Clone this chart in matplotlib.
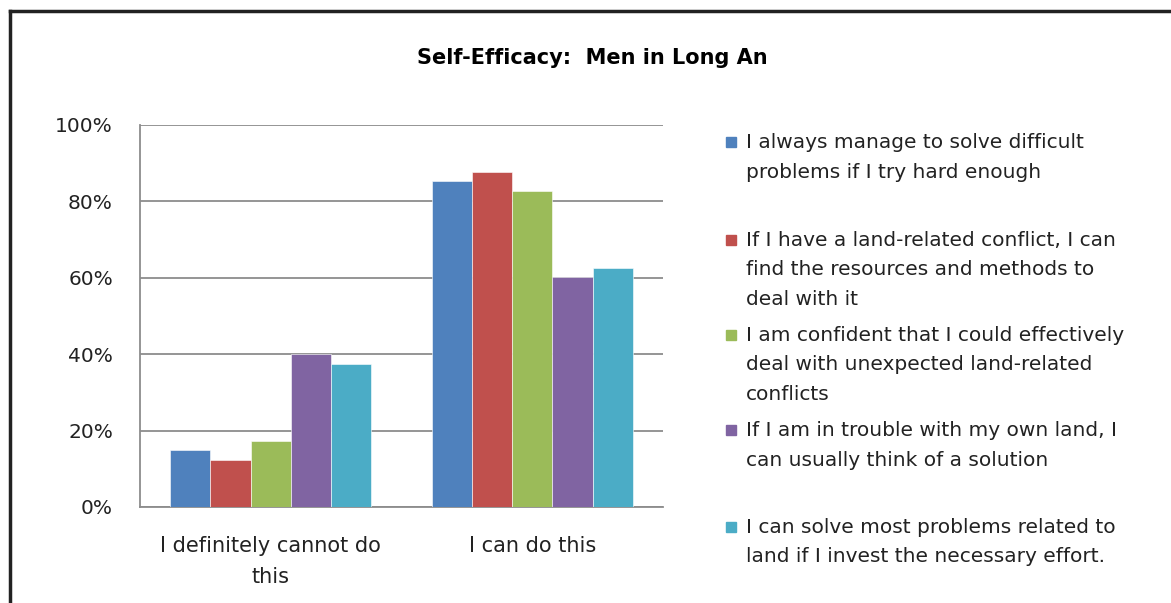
import matplotlib
matplotlib.use("Agg")
import matplotlib.pyplot as plt
import numpy as np
from matplotlib.patches import Rectangle
from matplotlib.lines import Line2D

categories = ["I definitely cannot do\nthis", "I can do this"]
series_labels = [
    "I always manage to solve difficult\nproblems if I try hard enough",
    "If I have a land-related conflict, I can\nfind the resources and methods to\ndeal with it",
    "I am confident that I could effectively\ndeal with unexpected land-related\nconflicts",
    "If I am in trouble with my own land, I\ncan usually think of a solution",
    "I can solve most problems related to\nland if I invest the necessary effort.",
]
always_manage = [15.0, 85.3]
land_conflict = [12.3, 87.8]
confident = [17.4, 82.8]
in_trouble = [40.0, 60.1]
solve_most = [37.4, 62.6]
series_values = [always_manage, land_conflict, confident, in_trouble, solve_most]
colors = ["#4f81bd", "#c0504d", "#9bbb59", "#8064a2", "#4bacc6"]
yticks = [0, 20, 40, 60, 80, 100]
ytick_labels = ["0%", "20%", "40%", "60%", "80%", "100%"]
title = "Self-Efficacy:  Men in Long An"

plt.rcParams['font.family'] = ['DejaVu Sans']

W, H = 1171, 603
fig = plt.figure(figsize=(W / 100, H / 100), dpi=100)
ax = fig.add_axes([140 / W, 1 - 507 / H, (663 - 140) / W, (507 - 125) / H])

x = np.arange(len(categories))
bw = 0.154
n = len(series_values)
for i, vals in enumerate(series_values):
    ax.bar(x + (i - (n - 1) / 2) * bw, vals, width=bw, color=colors[i],
           edgecolor="white", linewidth=0.4, zorder=3)

fs = 14.5
ax.set_xlim(-0.5, len(categories) - 0.5)
ax.set_ylim(0, 100)
ax.set_yticks(yticks)
ax.set_yticklabels(ytick_labels, fontsize=fs, color="#222222")
ax.set_xticks(x)
ax.set_xticklabels(categories, fontsize=15, color="#222222", linespacing=1.68)
ax.tick_params(axis="y", length=0, pad=19.5)
ax.tick_params(axis="x", length=0, pad=21)
ax.yaxis.grid(True, color="#8c8c8c", linewidth=1.3, zorder=0)
for s in ["top", "right"]:
    ax.spines[s].set_visible(False)
for s in ["left", "bottom"]:
    ax.spines[s].set_color("#8c8c8c")
    ax.spines[s].set_linewidth(1.3)

fig.text(592 / W, 1 - 58 / H, title, ha="center", va="center",
         fontsize=15, fontweight="bold")

# legend, manual
starts = [142, 240, 335, 430, 527]
for i, lab in enumerate(series_labels):
    y0 = starts[i]
    fig.patches.append(Rectangle((726 / W, 1 - (y0 + 5) / H), 10 / W, 10 / H,
                                 transform=fig.transFigure, color=colors[i]))
    fig.text(746 / W, 1 - (y0 - 9) / H, lab, ha="left", va="top",
             fontsize=fs, color="#222222", linespacing=1.7)

# outer frame
fig.add_artist(Line2D([10 / W, 10 / W], [0, 1 - 11 / H], transform=fig.transFigure,
                      color="#222222", linewidth=2.5))
fig.add_artist(Line2D([10 / W, 1], [1 - 11 / H, 1 - 11 / H], transform=fig.transFigure,
                      color="#222222", linewidth=2.5))

fig.savefig("out.png", dpi=100)
